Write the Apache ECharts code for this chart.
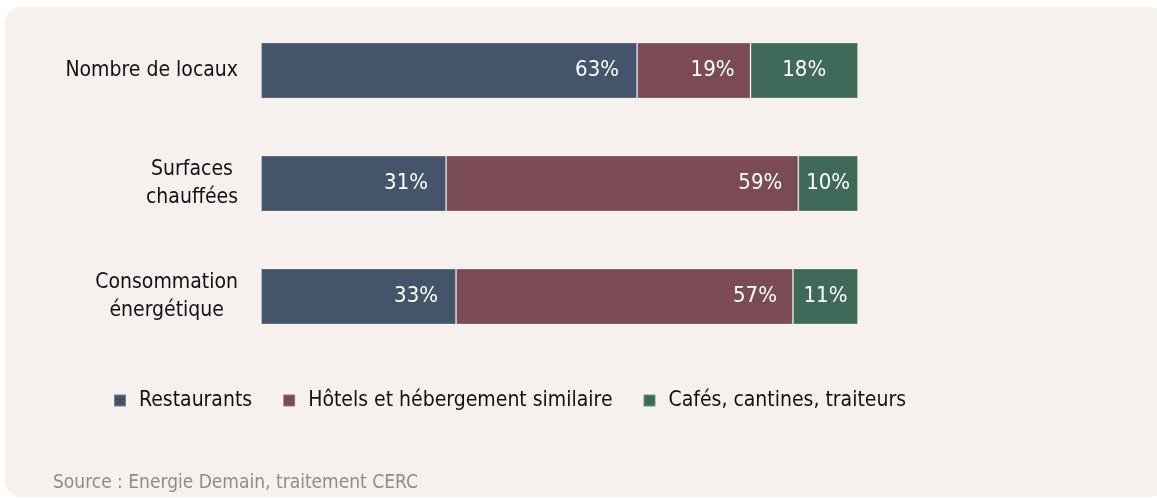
<!DOCTYPE html>
<html>
<head>
<meta charset="utf-8">
<script src="https://cdn.jsdelivr.net/npm/echarts@6/dist/echarts.min.js"></script>
<style>
  html, body { margin: 0; padding: 0; background: #fff; }
  #panel {
    position: absolute; left: 5px; top: 7px; width: 1160px; height: 490px;
    background: #f6f1ef; border-radius: 16px;
  }
  #chart { position: absolute; left: 0; top: 0; width: 1157px; height: 500px; }
</style>
</head>
<body>
<div id="panel"></div>
<div id="chart"></div>
<script>
  // catégories (axe vertical)
  var categories = ['Nombre de locaux', 'Surfaces\nchauffées', 'Consommation\nénergétique']
  // parts en %
  var restaurants = [63, 31, 33]
  var hotels = [19, 59, 57]
  var cafes = [18, 10, 11]
  var seriesNames = ['Restaurants', 'Hôtels et hébergement similaire', 'Cafés, cantines, traiteurs']
  var colors = ['#44546a', '#7a4b57', '#3f6a5b']

  var font = '"Liberation Sans Narrow", "DejaVu Sans Condensed", sans-serif'

  // la barre fait toujours toute la largeur : on normalise sur la somme de la ligne
  var totals = restaurants.map(function (v, i) { return v + hotels[i] + cafes[i] })
  function share(arr) {
    return arr.map(function (v, i) { return { value: v / totals[i] * 100, raw: v } })
  }

  function serie(name, arr, pos, dist) {
    return {
      name: name,
      type: 'bar',
      stack: 'total',
      barWidth: 56,
      data: share(arr),
      itemStyle: { borderColor: 'rgba(255,255,255,0.25)', borderWidth: 1 },
      label: {
        show: true,
        position: pos,
        distance: dist,
        color: '#fff',
        fontFamily: font,
        fontSize: 22,
        formatter: function (p) { return p.data.raw + '%' }
      }
    }
  }

  var chart = echarts.init(document.getElementById('chart'))
  chart.setOption({
    backgroundColor: 'transparent',
    color: colors,
    animation: false,
    textStyle: { fontFamily: font },
    title: {
      text: 'Source : Energie Demain, traitement CERC',
      left: 48, top: 469,
      textStyle: { color: '#8c8c8c', fontSize: 19, fontWeight: 'normal', fontFamily: font }
    },
    legend: {
      top: 385,
      left: 108,
      icon: 'rect',
      itemWidth: 12,
      itemHeight: 12,
      itemGap: 30,
      textStyle: { color: '#111', fontSize: 21, fontFamily: font, padding: [0, 0, 0, 8] },
      data: seriesNames
    },
    grid: { left: 261, right: 299, top: 14, bottom: 147 },
    xAxis: { type: 'value', min: 0, max: 100, show: false },
    yAxis: {
      type: 'category',
      inverse: true,
      data: categories,
      axisLine: { show: false },
      axisTick: { show: false },
      axisLabel: {
        margin: 23,
        color: '#111',
        formatter: function (v) {
          return v.split('\n').map(function (s) { return '{c|' + s + '}' }).join('\n')
        },
        rich: {
          c: { align: 'center', fontSize: 21, lineHeight: 28, fontFamily: font, color: '#111' }
        }
      }
    },
    series: [
      serie(seriesNames[0], restaurants, 'insideRight', 18),
      serie(seriesNames[1], hotels, 'insideRight', 16),
      serie(seriesNames[2], cafes, 'inside', 0)
    ]
  })
</script>
</body>
</html>
